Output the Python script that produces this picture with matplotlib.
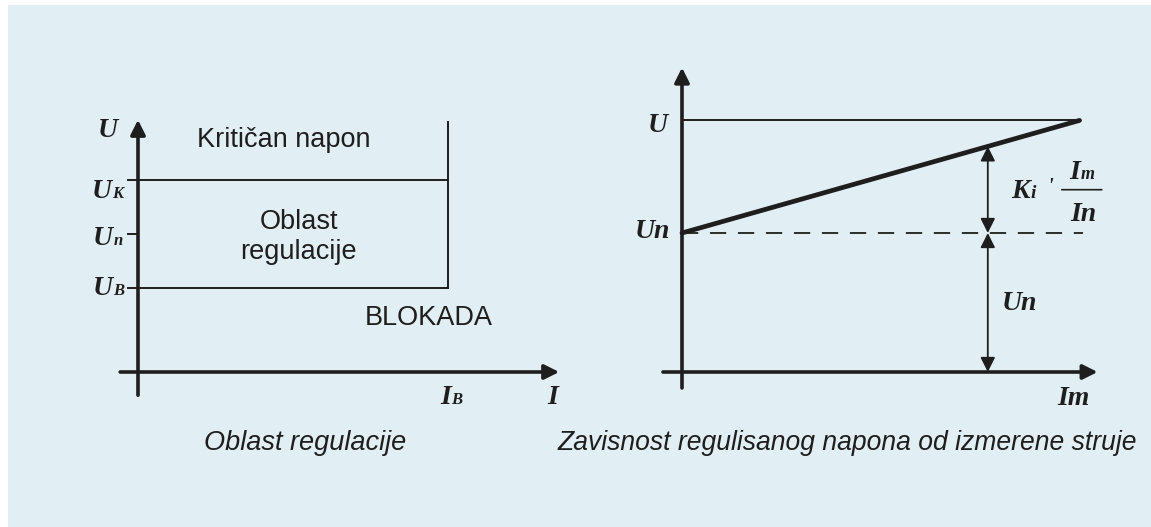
import matplotlib
matplotlib.use('Agg')
import matplotlib.pyplot as plt
from matplotlib.patches import Rectangle

W, H = 1151, 527
INK = '#1e1e1e'
BG = '#e1eef4'

# left diagram: voltage levels U_B, U_n, U_K and the blocking current I_B
lvl_sub = ['B', 'n', 'K']
lvl_U = [1.55, 2.55, 3.55]
I_B = 5.74
left_top = 4.67
left_xend = 7.8
# right diagram: Un -> U over the measured current Im
Un = 1.0
U = 1.81
Im_max = 2.86
Im_meas = 2.2
dash_end = 2.885
right_top = 2.19
right_xend = 2.99

SERIF = dict(family='Liberation Serif', style='italic', weight='bold', color=INK)
SANS = dict(family=['Liberation Sans', 'DejaVu Sans'], color=INK)
CAPT = dict(family=['Liberation Sans'], style='italic', color=INK)

fig = plt.figure(figsize=(W / 100, H / 100), dpi=100)
fig.add_artist(Rectangle((8 / W, 0), 1 - 8 / W, (H - 5) / H, transform=fig.transFigure,
                         facecolor=BG, edgecolor='none', zorder=-10))


def panel(box, origin, unit):
    # box in pixels (x0, ytop, x1, ybottom), origin in pixels, unit = px per data unit
    x0, y0, x1, y1 = box
    ax = fig.add_axes([x0 / W, 1 - y1 / H, (x1 - x0) / W, (y1 - y0) / H])
    ox, oy = origin
    ax.set_xlim((x0 - ox) / unit, (x1 - ox) / unit)
    ax.set_ylim((oy - y1) / unit, (oy - y0) / unit)
    ax.axis('off')
    ax.patch.set_alpha(0)
    return ax


def arrow(ax, start, end, lw, style='-|>'):
    ax.annotate('', xy=end, xytext=start,
                arrowprops=dict(arrowstyle=style, lw=lw, color=INK, shrinkA=0, shrinkB=0,
                                mutation_scale=22), annotation_clip=False)


def lab(ax, xy, main, sub, dx, dy, size=20, subsize=12, ha='right'):
    # dx, dy in pixels, dy positive = up
    ax.annotate(main, xy, xytext=(dx * 0.72, dy * 0.72), textcoords='offset points',
                ha=ha, va='baseline', fontsize=size, annotation_clip=False, **SERIF)
    if sub:
        ax.annotate(sub, xy, xytext=(dx * 0.72 + 0.3, dy * 0.72), textcoords='offset points',
                    ha='left', va='baseline', fontsize=subsize, annotation_clip=False, **SERIF)


# ---------------- left: Oblast regulacije ----------------
unitL = 54
axL = panel((20, 60, 620, 430), (138, 372), unitL)
tick = 10 / unitL
arrow(axL, (0, -0.43), (0, left_top), 2.6)
arrow(axL, (-0.33, 0), (left_xend, 0), 2.6)
for s, u in zip(lvl_sub, lvl_U):
    if s == 'n':
        axL.plot([-tick, 0], [u, u], color=INK, lw=1.4)
    else:
        axL.plot([-tick, I_B], [u, u], color=INK, lw=1.4)
axL.plot([I_B, I_B], [lvl_U[0], left_top - 0.04], color=INK, lw=1.4)

lab(axL, (0, left_top), 'U', None, -20, -17)
lab(axL, (0, lvl_U[2]), 'U', 'K', -26, -18)
lab(axL, (0, lvl_U[1]), 'U', 'n', -25, -11)
lab(axL, (0, lvl_U[0]), 'U', 'B', -25, -7)
lab(axL, (I_B, 0), 'I', 'B', 3, -32)
lab(axL, (left_xend, 0), 'I', None, -7, -32, ha='center')

axL.text(2.70, 4.30, 'Kritičan napon', ha='center', va='center', fontsize=19.5, **SANS)
axL.text(2.98, lvl_U[1] - 0.05, 'Oblast\nregulacije', ha='center', va='center',
         fontsize=19.5, linespacing=1.22, **SANS)
axL.text(5.39, 1.0, 'BLOKADA', ha='center', va='center', fontsize=19.5, **SANS)

# ---------------- right: Zavisnost ----------------
unitR = 139
axR = panel((620, 40, 1140, 430), (682, 372), unitR)
arrow(axR, (0, -0.115), (0, right_top), 2.6)
arrow(axR, (-0.137, 0), (right_xend, 0), 2.6)
axR.plot([0, Im_max], [U, U], color=INK, lw=1.4)
axR.plot([0, dash_end], [Un, Un], color=INK, lw=1.3, linestyle=(0, (9, 6.5)))
axR.plot([0, Im_max], [Un, U], color=INK, lw=3.4, solid_capstyle='round')
y_meas = Un + (U - Un) * Im_meas / Im_max
arrow(axR, (Im_meas, Un), (Im_meas, y_meas), 1.3, '<|-|>')
arrow(axR, (Im_meas, 0), (Im_meas, Un), 1.3, '<|-|>')

lab(axR, (0, U), 'U', None, -14, -12)
lab(axR, (0, Un), 'Un', None, -12, -5)
lab(axR, (Im_meas, Un / 2), 'Un', None, 14, -7.5, ha='left')
lab(axR, (Im_max, 0), 'Im', None, -22, -33, ha='left')

mid = (Un + y_meas) / 2
lab(axR, (Im_meas, mid), 'K', 'i', 42, -8, subsize=14)
axR.annotate("'", (Im_meas, mid), xytext=(62 * 0.72, 3 * 0.72), textcoords='offset points',
             ha='center', va='center', fontsize=15, **SERIF)
lab(axR, (Im_meas, mid), 'I', 'm', 92, 11, subsize=13)
lab(axR, (Im_meas, mid), 'In', None, 82, -31, ha='left')
bar_px = [74, 114]
axR.annotate('', (Im_meas + bar_px[1] / unitR, mid), xytext=(Im_meas + bar_px[0] / unitR, mid),
             arrowprops=dict(arrowstyle='-', lw=1.2, color=INK, shrinkA=0, shrinkB=0),
             annotation_clip=False)

# captions
fig.text(204 / W, 1 - 443 / H, 'Oblast regulacije', ha='left', va='center', fontsize=19.5, **CAPT)
fig.text(558 / W, 1 - 443 / H, 'Zavisnost regulisanog napona od izmerene struje',
         ha='left', va='center', fontsize=19.1, **CAPT)

fig.savefig('out.png', dpi=100)
